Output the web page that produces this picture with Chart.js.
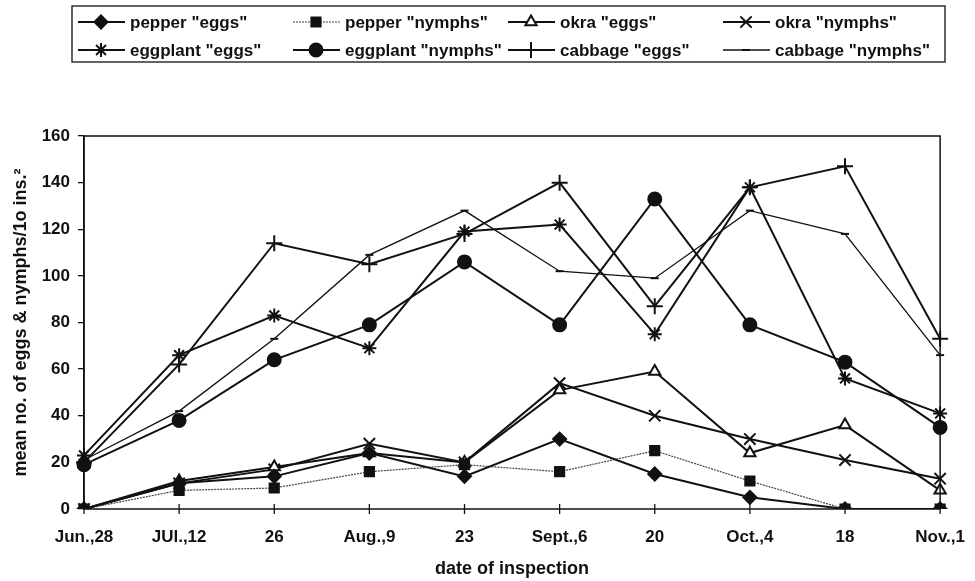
<!DOCTYPE html>
<html>
<head>
<meta charset="utf-8">
<script src="https://cdn.jsdelivr.net/npm/chart.js@4.4.1/dist/chart.umd.min.js"></script>
<style>
  html, body { margin: 0; padding: 0; background: #fff; }
  #wrap { width: 975px; height: 581px; }
</style>
</head>
<body>
<div id="wrap"><canvas id="chart" width="975" height="581"></canvas></div>
<script>
// inspection dates
const dates = ['Jun.,28', 'JUl.,12', '26', 'Aug.,9', '23', 'Sept.,6', '20', 'Oct.,4', '18', 'Nov.,1'];

// mean counts
const pepperEggs      = [0, 11, 14, 24, 14, 30, 15, 5, 0, 0];
const pepperNymphs    = [0, 8, 9, 16, 19, 16, 25, 12, 0, 0];
const okraEggs        = [0, 12, 18, 24, 20, 51, 59, 24, 36, 8];
const okraNymphs      = [0, 11, 17, 28, 20, 54, 40, 30, 21, 13];
const eggplantEggs    = [23, 66, 83, 69, 119, 122, 75, 138, 56, 41];
const eggplantNymphs  = [19, 38, 64, 79, 106, 79, 133, 79, 63, 35];
const cabbageEggs     = [20, 62, 114, 105, 118, 140, 87, 138, 147, 73];
const cabbageNymphs   = [21, 42, 73, 109, 128, 102, 99, 128, 118, 66];

const FONT = '"Liberation Sans", Arial, sans-serif';

function series(label, data, style) {
    return Object.assign({
        label: label,
        data: data,
        borderColor: '#111',
        backgroundColor: '#111',
        pointBorderColor: '#111',
        pointBackgroundColor: '#111',
        borderWidth: 2,
        pointBorderWidth: 2,
        tension: 0
    }, style);
}

const datasets = [
    series('pepper "eggs"', pepperEggs, { pointStyle: 'rectRot', pointRadius: 6.5 }),
    series('pepper "nymphs"', pepperNymphs, { pointStyle: 'rect', pointRadius: 6.5, borderWidth: 1.2,
        borderColor: '#444', borderDash: [2, 1] }),
    series('okra "eggs"', okraEggs, { pointStyle: 'triangle', pointRadius: 6.5, pointBackgroundColor: '#fff' }),
    series('okra "nymphs"', okraNymphs, { pointStyle: 'crossRot', pointRadius: 8 }),
    series('eggplant "eggs"', eggplantEggs, { pointStyle: 'star', pointRadius: 7 }),
    series('eggplant "nymphs"', eggplantNymphs, { pointStyle: 'circle', pointRadius: 6.5 }),
    series('cabbage "eggs"', cabbageEggs, { pointStyle: 'cross', pointRadius: 8 }),
    series('cabbage "nymphs"', cabbageNymphs, { pointStyle: 'line', pointRadius: 4, borderWidth: 1.3 })
];

// frame round the plot plus ticks crossing the x axis
const framePlugin = {
    id: 'frame',
    afterDatasetsDraw(chart) {
        const { ctx, chartArea: a } = chart;
        ctx.save();
        ctx.strokeStyle = '#111';
        ctx.lineWidth = 1.5;
        ctx.strokeRect(a.left, a.top, a.right - a.left, a.bottom - a.top);
        const xs = chart.scales.x;
        ctx.lineWidth = 1.3;
        dates.forEach((d, i) => {
            const x = xs.getPixelForValue(i);
            ctx.beginPath();
            ctx.moveTo(x, a.bottom - 5);
            ctx.lineTo(x, a.bottom + 5);
            ctx.stroke();
        });
        ctx.restore();
    }
};

// boxed legend: line sample with marker, two rows of four
const legendPlugin = {
    id: 'boxLegend',
    afterDraw(chart) {
        const ctx = chart.ctx;
        const cols = [78, 293, 508, 723];
        const rows = [22, 50];
        ctx.save();
        ctx.strokeStyle = '#111';
        ctx.lineWidth = 1.3;
        ctx.strokeRect(72, 6, 945 - 72, 56);
        ctx.font = 'bold 17px ' + FONT;
        ctx.textBaseline = 'middle';
        chart.data.datasets.forEach((ds, i) => {
            const x = cols[i % 4];
            const y = rows[Math.floor(i / 4)];
            ctx.strokeStyle = ds.borderColor;
            ctx.lineWidth = ds.borderWidth;
            ctx.setLineDash(ds.borderDash || []);
            ctx.beginPath();
            ctx.moveTo(x, y);
            ctx.lineTo(x + 47, y);
            ctx.stroke();
            ctx.setLineDash([]);
            ctx.strokeStyle = ds.pointBorderColor;
            ctx.fillStyle = ds.pointBackgroundColor;
            ctx.lineWidth = ds.pointBorderWidth;
            Chart.helpers.drawPoint(ctx, {
                pointStyle: ds.pointStyle,
                radius: ds.pointRadius,
                rotation: 0,
                borderWidth: ds.pointBorderWidth
            }, x + 23, y);
            ctx.fillStyle = '#111';
            ctx.fillText(ds.label, x + 52, y + 1);
        });
        ctx.restore();
    }
};

new Chart(document.getElementById('chart'), {
    type: 'line',
    data: { labels: dates, datasets: datasets },
    plugins: [framePlugin, legendPlugin],
    options: {
        responsive: false,
        animation: false,
        layout: { padding: { top: 136, right: 30, left: 0, bottom: 0 } },
        plugins: {
            legend: { display: false },
            tooltip: { enabled: false }
        },
        scales: {
            x: {
                offset: false,
                grid: { display: false },
                border: { display: false },
                ticks: {
                    color: '#111',
                    font: { family: FONT, size: 17, weight: 'bold' },
                    padding: 10,
                    maxRotation: 0,
                    autoSkip: false
                },
                title: {
                    display: true,
                    text: 'date of inspection',
                    color: '#111',
                    font: { family: FONT, size: 18, weight: 'bold' },
                    padding: { top: 4, bottom: 1 }
                },
                afterFit(scale) { scale.height = 72; }
            },
            y: {
                min: 0,
                max: 160,
                grid: { display: true, drawOnChartArea: false, tickLength: 6, color: '#111', lineWidth: 1.3 },
                border: { display: true, color: '#111', width: 1.5 },
                ticks: {
                    stepSize: 20,
                    color: '#111',
                    font: { family: FONT, size: 17, weight: 'bold' },
                    padding: 8
                },
                title: {
                    display: true,
                    text: 'mean no. of eggs & nymphs/1o ins.²',
                    color: '#111',
                    font: { family: FONT, size: 18, weight: 'bold' },
                    padding: { top: 10, bottom: 0 }
                },
                afterFit(scale) { scale.width = 84; }
            }
        }
    }
});
</script>
</body>
</html>
